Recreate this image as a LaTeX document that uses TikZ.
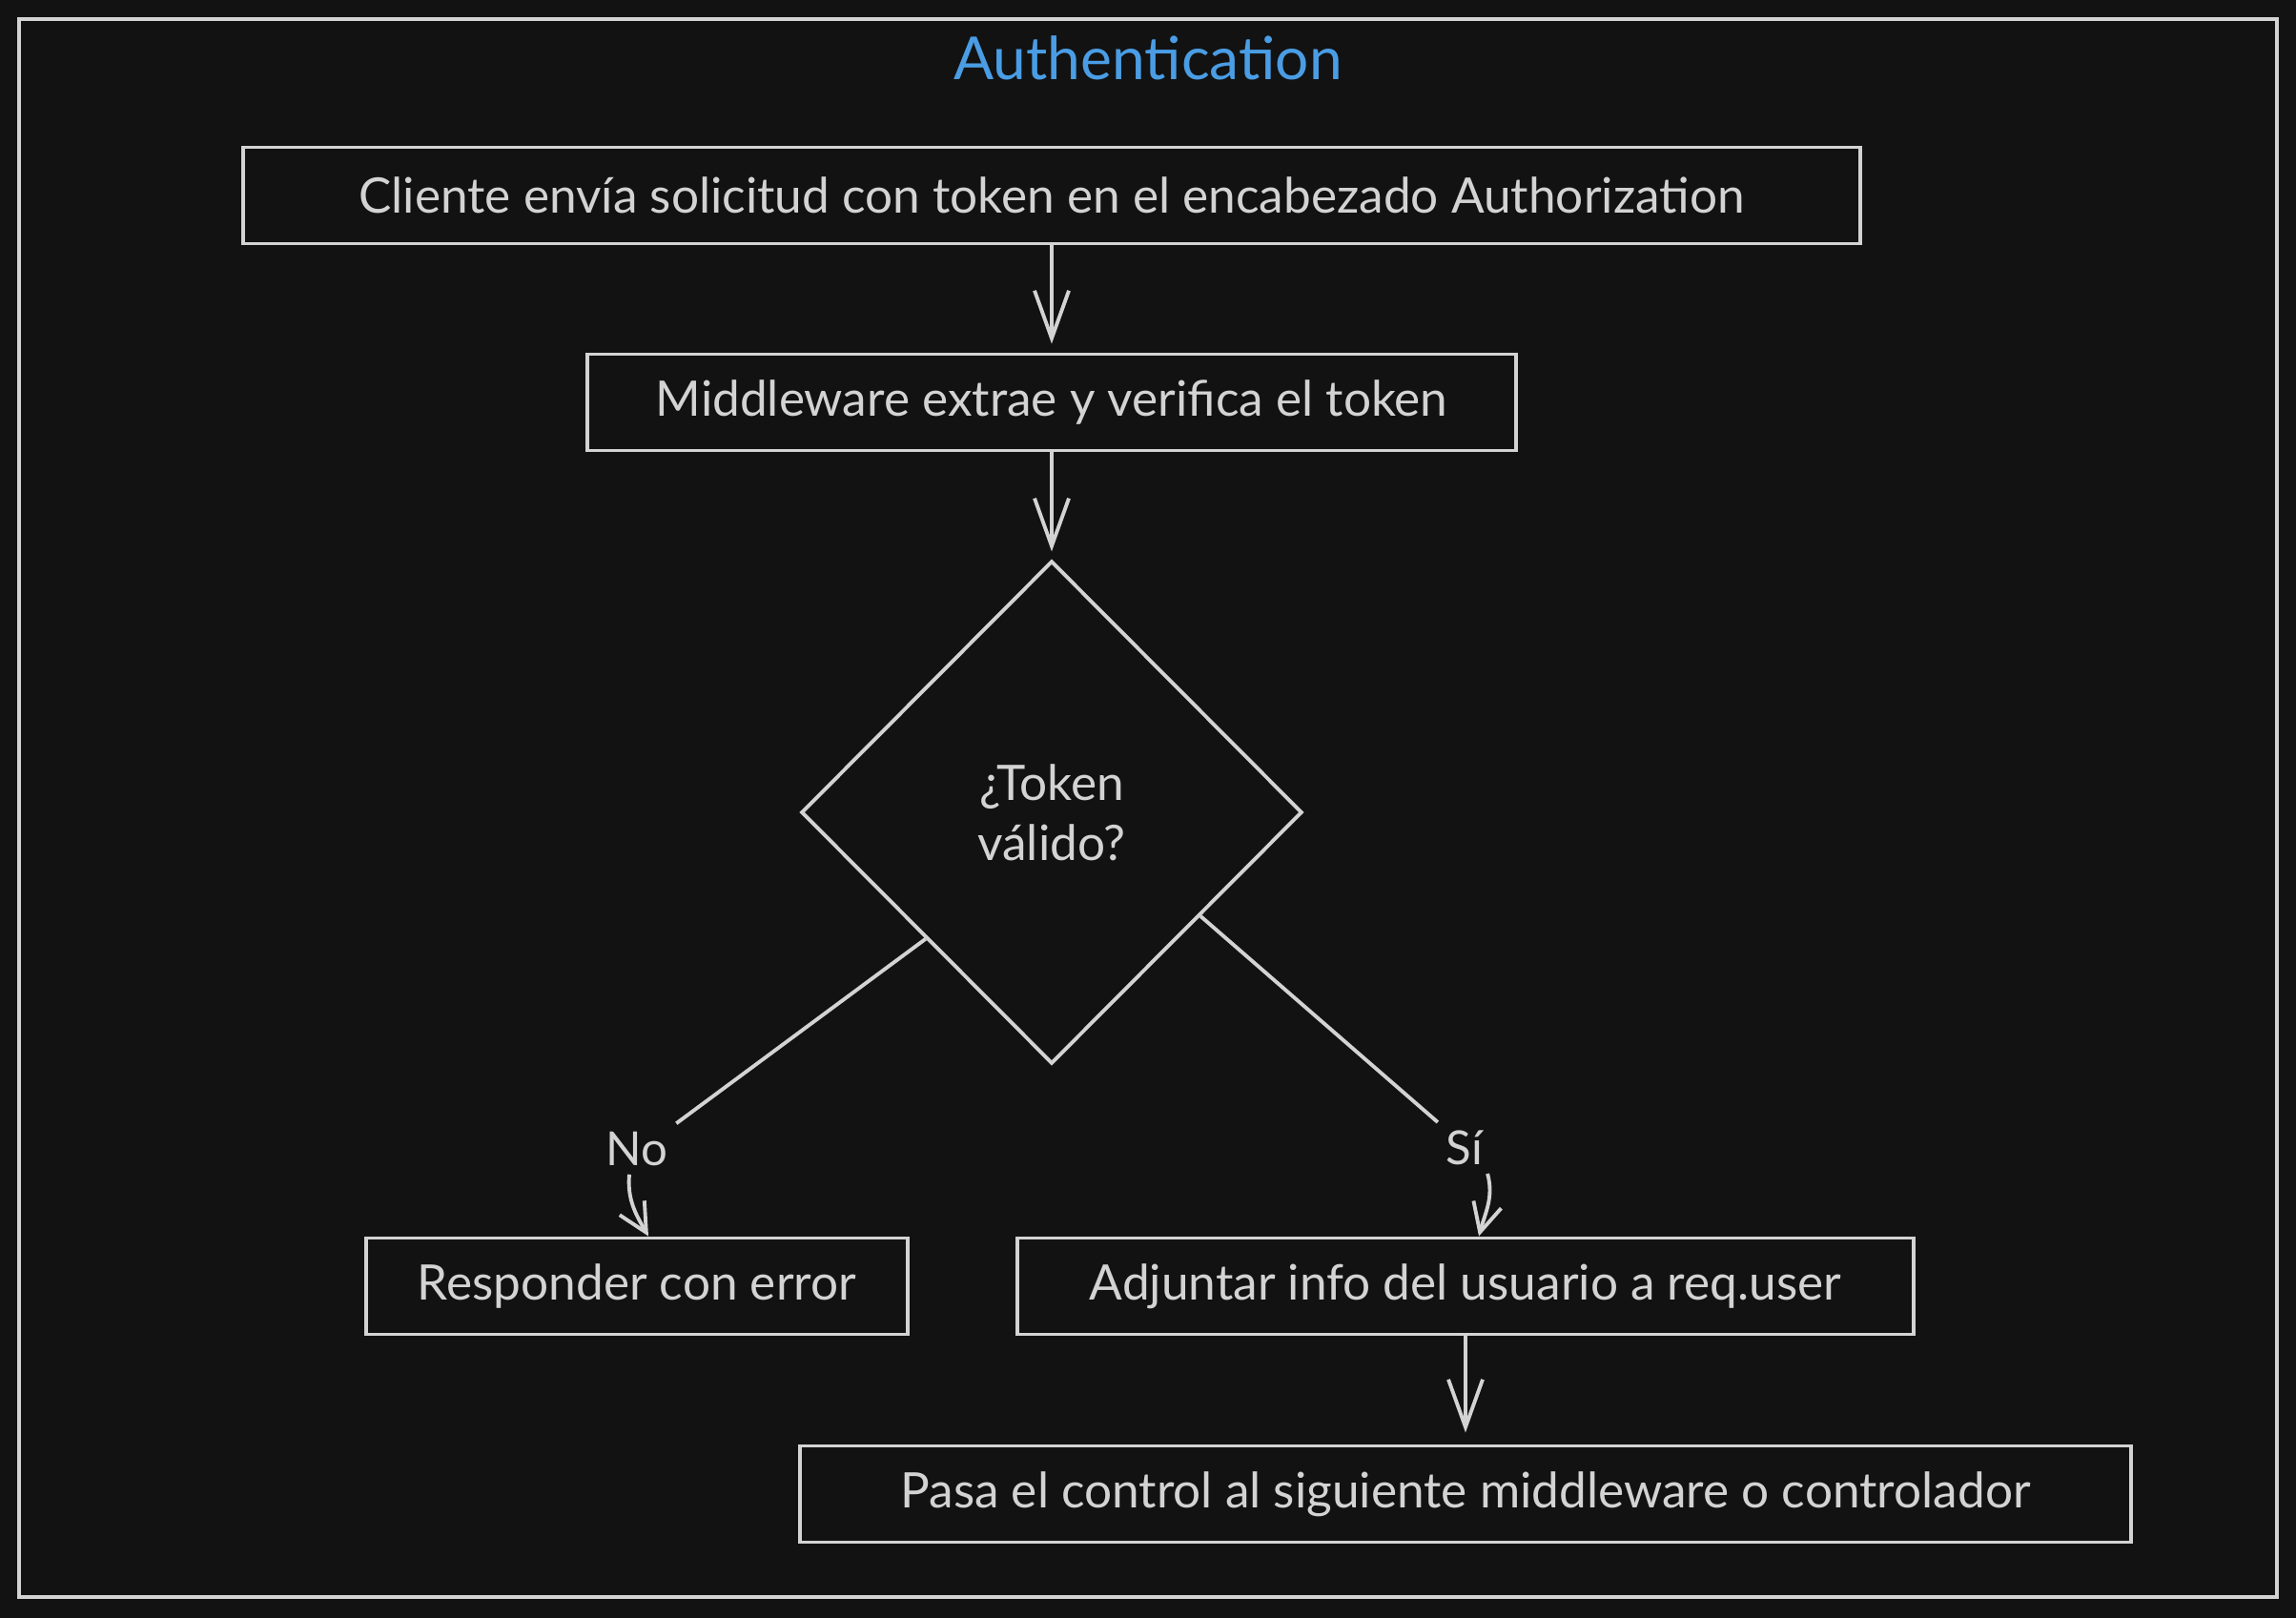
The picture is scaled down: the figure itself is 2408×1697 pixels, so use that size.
\documentclass[tikz,border=0pt]{standalone}
\usepackage{fontspec}
\setmainfont{Lato}
\usetikzlibrary{arrows.meta,calc,shapes.geometric}
\definecolor{bgdark}{HTML}{121212}
\definecolor{inkgray}{HTML}{D3D3D3}
\definecolor{titleblue}{HTML}{4A9DE4}

\begin{document}
\begin{tikzpicture}[x=0.01cm, y=-0.01cm, >={Straight Barb[length=0.5cm,width=0.36cm]}, line width=1.1pt, font=\fontsize{14.6}{18}\selectfont]
	\tikzset{procbox/.style={draw=inkgray, text=inkgray, rectangle, minimum height=1.01cm, inner sep=0pt}}
	\tikzset{decision/.style={draw=inkgray, text=inkgray, diamond, minimum width=5.25cm, minimum height=5.27cm, inner sep=0pt, align=center}}
	\tikzset{lbl/.style={text=inkgray, inner sep=2pt, font=\fontsize{14}{16}\selectfont}}
	\tikzset{smallarr/.style={-{Straight Barb[length=0.3cm,width=0.3cm]}}}
	\fill[bgdark] (0,0) rectangle (2408,1697);
	\useasboundingbox (0,0) rectangle (2408,1697);
	\draw[inkgray] (20,20) rectangle (2388,1675);
	\node[text=titleblue, font=\fontsize{17.7}{21}\selectfont] (title) at (1204,61) {Authentication};
	% main flow
	\node[procbox, minimum width=16.95cm] (cli) at (1103,205) {Cliente envía solicitud con token en el encabezado Authorization};
	\node[procbox, minimum width=9.73cm] (mid) at (1103,422) {Middleware extrae y verifica el token};
	\node[decision] (dia) at (1103,852) {¿Token\\válido?};
	\node[procbox, minimum width=5.67cm] (err) at (668,1349) {Responder con error};
	\node[procbox, minimum width=9.39cm] (ok) at (1537,1349) {Adjuntar info del usuario a req.user};
	\node[procbox, minimum width=13.96cm] (next) at (1537,1567) {Pasa el control al siguiente middleware o controlador};
	\node[lbl] (nolbl) at (668,1205) {No};
	\node[lbl] (silbl) at (1536,1204) {Sí};
	\draw[inkgray, ->, shorten >=0.09cm] (cli) -- (mid);
	\draw[inkgray, ->, shorten >=0.08cm] (mid) -- (dia);
	\draw[inkgray] ($(dia.west)!0.5!(dia.south)$) -- (nolbl.north east);
	\draw[inkgray, smallarr] ([xshift=-0.08cm]nolbl.south) to[out=-95, in=120] ([xshift=0.12cm]err.north);
	\draw[inkgray] ($(dia.east)!0.41!(dia.south)$) -- (silbl.north west);
	\draw[inkgray, smallarr] ([xshift=-0.04cm]silbl.south east) to[out=-75, in=75] ([xshift=0.14cm]ok.north);
	\draw[inkgray, ->, shorten >=0.12cm] (ok) -- (next);
\end{tikzpicture}
\end{document}
